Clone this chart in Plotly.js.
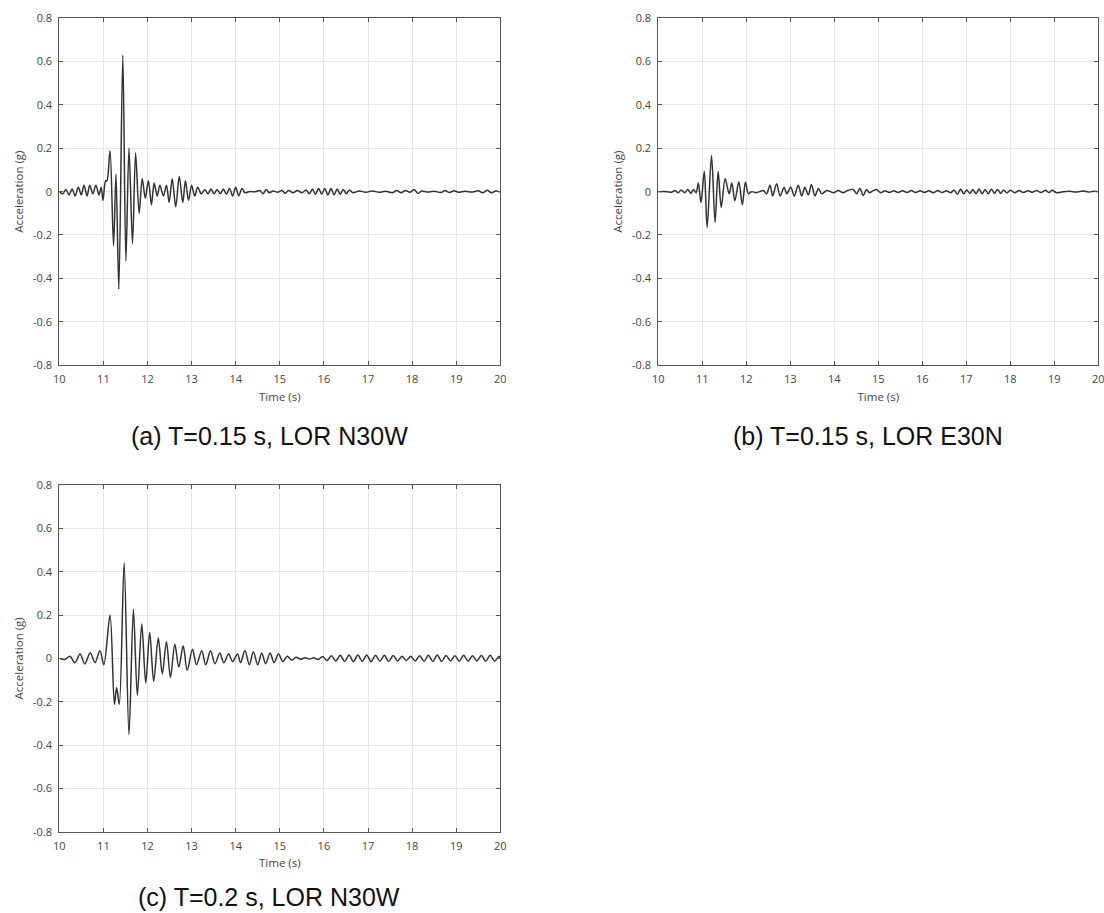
<!DOCTYPE html>
<html>
<head>
<meta charset="utf-8">
<script src="https://cdn.plot.ly/plotly-3.0.1.min.js"></script>
<style>
  html, body { margin: 0; padding: 0; background: #ffffff; }
  #chart { width: 1104px; height: 913px; }
</style>
</head>
<body>
<div id="chart"></div>
<script>
// ---------------- Data ----------------
// Panel (a): T=0.15 s, LOR N30W
const timeA = [10.00, 10.08, 10.15, 10.22, 10.29, 10.36, 10.43, 10.50, 10.56, 10.63, 10.69, 10.76, 10.83, 10.90, 10.95, 10.99, 11.05, 11.08,
  11.15, 11.23, 11.285, 11.35, 11.44, 11.51, 11.58, 11.66, 11.73, 11.81, 11.88, 11.95, 12.02, 12.09, 12.15, 12.22, 12.28, 12.36, 12.43, 12.49,
  12.56, 12.64, 12.72, 12.80, 12.86, 12.93, 13.00, 13.07, 13.14, 13.22, 13.30, 13.37, 13.44, 13.51, 13.58, 13.65, 13.72, 13.79, 13.86, 13.93,
  14.00, 14.07, 14.14, 14.21, 14.30, 14.45, 14.55, 14.62, 14.69, 14.76, 14.85, 14.95, 15.05, 15.12, 15.20, 15.30, 15.40, 15.50, 15.60, 15.67,
  15.74, 15.81, 15.88, 15.95, 16.02, 16.09, 16.16, 16.23, 16.30, 16.37, 16.44, 16.51, 16.58, 16.66, 16.80, 16.95, 17.10, 17.25, 17.40, 17.55,
  17.65, 17.75, 17.85, 17.95, 18.05, 18.13, 18.22, 18.35, 18.50, 18.65, 18.75, 18.85, 18.95, 19.05, 19.20, 19.35, 19.50, 19.60, 19.70, 19.80,
  19.90, 20.00];
const accA = [0.000, -0.010, 0.010, -0.015, 0.012, -0.020, 0.020, -0.015, 0.030, -0.020, 0.030, -0.010, 0.030, -0.015, 0.020, -0.040, 0.050, 0.050,
  0.190, -0.250, 0.080, -0.450, 0.630, -0.320, 0.200, -0.240, 0.180, -0.100, 0.060, -0.030, 0.050, -0.060, 0.040, -0.020, 0.030, -0.020, 0.030, -0.050,
  0.060, -0.070, 0.070, -0.050, 0.050, -0.040, 0.030, -0.020, 0.020, -0.010, 0.010, -0.010, 0.012, -0.010, 0.010, -0.010, 0.012, -0.012, 0.015, -0.020,
  0.020, -0.020, 0.015, -0.005, 0.000, 0.000, 0.005, -0.010, 0.010, -0.005, 0.003, -0.003, 0.005, -0.008, 0.005, -0.005, 0.005, -0.005, 0.008, -0.010,
  0.012, -0.012, 0.015, -0.012, 0.015, -0.015, 0.015, -0.015, 0.012, -0.012, 0.010, -0.010, 0.008, -0.005, 0.003, -0.003, 0.003, -0.003, 0.002, -0.005,
  0.005, -0.005, 0.005, -0.003, 0.010, -0.008, 0.003, -0.002, 0.002, -0.004, 0.005, -0.004, 0.004, -0.003, 0.002, -0.002, 0.004, -0.005, 0.006, -0.005,
  0.003, -0.002];

// Panel (b): T=0.15 s, LOR E30N
const timeB = [10.00, 10.20, 10.30, 10.38, 10.45, 10.52, 10.60, 10.67, 10.74, 10.80, 10.86, 10.91, 10.97, 11.045, 11.11, 11.21, 11.29, 11.36,
  11.43, 11.52, 11.61, 11.67, 11.74, 11.83, 11.91, 11.98, 12.05, 12.12, 12.23, 12.39, 12.46, 12.54, 12.60, 12.69, 12.77, 12.86, 12.92, 13.01,
  13.09, 13.18, 13.26, 13.33, 13.41, 13.48, 13.56, 13.64, 13.71, 13.83, 13.98, 14.09, 14.20, 14.30, 14.43, 14.51, 14.58, 14.66, 14.73, 14.80,
  14.88, 14.96, 15.05, 15.15, 15.25, 15.35, 15.45, 15.55, 15.65, 15.75, 15.85, 15.95, 16.05, 16.15, 16.25, 16.35, 16.45, 16.55, 16.65, 16.72,
  16.80, 16.87, 16.94, 17.01, 17.08, 17.15, 17.22, 17.29, 17.36, 17.43, 17.50, 17.57, 17.64, 17.71, 17.78, 17.85, 17.92, 18.00, 18.10, 18.20,
  18.30, 18.40, 18.50, 18.60, 18.70, 18.80, 18.88, 18.95, 19.05, 19.20, 19.35, 19.50, 19.65, 19.80, 19.90, 20.00];
const accB = [0.000, 0.000, -0.003, 0.005, -0.005, 0.008, -0.005, 0.010, -0.008, 0.010, -0.005, 0.040, -0.050, 0.094, -0.165, 0.167, -0.142, 0.094,
  -0.073, 0.059, -0.010, 0.040, -0.042, 0.046, -0.060, 0.043, -0.010, 0.000, -0.005, 0.005, -0.010, 0.030, -0.020, 0.037, -0.020, 0.020, -0.010, 0.020,
  -0.020, 0.030, -0.020, 0.020, -0.015, 0.033, -0.020, 0.015, -0.010, 0.005, -0.005, 0.005, -0.005, 0.005, 0.010, -0.010, 0.015, -0.018, 0.010, -0.005,
  0.005, 0.010, -0.005, 0.004, -0.004, 0.004, -0.004, 0.004, -0.004, 0.005, -0.004, 0.004, -0.004, 0.004, -0.005, 0.005, -0.004, 0.004, -0.005, 0.008,
  -0.012, 0.012, -0.010, 0.008, -0.008, 0.010, -0.010, 0.012, -0.010, 0.010, -0.010, 0.012, -0.008, 0.010, -0.008, 0.008, -0.006, 0.006, -0.005, 0.005,
  -0.004, 0.004, -0.003, 0.005, -0.004, 0.006, -0.004, 0.006, -0.005, 0.000, 0.002, -0.002, 0.003, -0.002, 0.002, 0.000];

// Panel (c): T=0.2 s, LOR N30W
const timeC = [10.00, 10.13, 10.24, 10.355, 10.47, 10.58, 10.70, 10.81, 10.92, 11.01, 11.15, 11.25, 11.30, 11.36, 11.47, 11.58, 11.68, 11.77,
  11.87, 11.96, 12.05, 12.14, 12.245, 12.335, 12.43, 12.52, 12.62, 12.71, 12.81, 12.90, 13.02, 13.11, 13.23, 13.32, 13.43, 13.53, 13.64, 13.73,
  13.84, 13.93, 14.04, 14.11, 14.21, 14.31, 14.40, 14.50, 14.59, 14.68, 14.78, 14.87, 14.97, 15.07, 15.17, 15.27, 15.37, 15.47, 15.57, 15.67,
  15.77, 15.87, 15.97, 16.07, 16.17, 16.27, 16.37, 16.47, 16.57, 16.67, 16.77, 16.87, 16.97, 17.07, 17.17, 17.27, 17.37, 17.47, 17.57, 17.67,
  17.77, 17.87, 17.97, 18.07, 18.17, 18.27, 18.37, 18.47, 18.57, 18.67, 18.77, 18.87, 18.97, 19.07, 19.17, 19.27, 19.37, 19.47, 19.57, 19.67,
  19.77, 19.87, 19.97, 20.00];
const accC = [0.000, -0.005, 0.010, -0.020, 0.020, -0.026, 0.026, -0.020, 0.035, -0.030, 0.200, -0.212, -0.136, -0.212, 0.440, -0.352, 0.227, -0.171,
  0.159, -0.114, 0.120, -0.106, 0.094, -0.071, 0.077, -0.088, 0.065, -0.040, 0.058, -0.056, 0.042, -0.030, 0.035, -0.030, 0.035, -0.025, 0.025, -0.020,
  0.020, -0.015, 0.020, -0.020, 0.036, -0.030, 0.030, -0.030, 0.025, -0.025, 0.025, -0.020, 0.020, -0.015, 0.010, -0.008, 0.005, -0.004, 0.003, -0.003,
  0.003, -0.005, 0.008, -0.010, 0.012, -0.012, 0.014, -0.014, 0.015, -0.015, 0.015, -0.014, 0.015, -0.015, 0.014, -0.013, 0.014, -0.014, 0.013, -0.012,
  0.010, -0.010, 0.010, -0.012, 0.012, -0.013, 0.014, -0.014, 0.015, -0.014, 0.013, -0.012, 0.012, -0.013, 0.014, -0.013, 0.012, -0.012, 0.013, -0.013,
  0.014, -0.013, 0.010, 0.000];

// Axis ticks and texts
const xTicks = [10, 11, 12, 13, 14, 15, 16, 17, 18, 19, 20];
const yTicks = [-0.8, -0.6, -0.4, -0.2, 0, 0.2, 0.4, 0.6, 0.8];
const yTickText = ['-0.8', '-0.6', '-0.4', '-0.2', '0', '0.2', '0.4', '0.6', '0.8'];
const xTitle = 'Time (s)';
const yTitle = 'Acceleration (g)';
const captions = ['(a) T=0.15 s, LOR N30W', '(b) T=0.15 s, LOR E30N', '(c) T=0.2 s, LOR N30W'];

// ---------------- Layout helpers ----------------
const W = 1104, H = 913;
const M = {l: 0, r: 0, t: 0, b: 0};
const px2x = p => p / W;
const px2y = p => 1 - p / H;

const tickFont = {family: 'Open Sans, sans-serif', size: 11, color: '#444444'};
const titleFont = {family: 'Open Sans, sans-serif', size: 11.5, color: '#444444'};

function xAxis(domainPx, anchor) {
  return {
    domain: [px2x(domainPx[0]), px2x(domainPx[1])],
    anchor: anchor,
    range: [10, 20],
    tickmode: 'array', tickvals: xTicks, ticktext: xTicks.map(String),
    ticks: 'inside', ticklen: 4, tickwidth: 1, tickcolor: '#555555',
    showline: true, linecolor: '#555555', linewidth: 1, mirror: 'ticks',
    showgrid: true, gridcolor: '#e6e6e6', gridwidth: 1,
    zeroline: false,
    tickfont: tickFont,
    ticklabelstandoff: 4,
    ticklabeloverflow: 'allow',
    title: {text: xTitle, font: titleFont, standoff: 7},
    automargin: false,
    fixedrange: true
  };
}
function yAxis(domainPx, anchor) {
  return {
    domain: [px2y(domainPx[1]), px2y(domainPx[0])],
    anchor: anchor,
    range: [-0.8, 0.8],
    tickmode: 'array', tickvals: yTicks, ticktext: yTickText,
    ticks: 'inside', ticklen: 4, tickwidth: 1, tickcolor: '#555555',
    showline: true, linecolor: '#555555', linewidth: 1, mirror: 'ticks',
    showgrid: true, gridcolor: '#e6e6e6', gridwidth: 1,
    zeroline: false,
    tickfont: tickFont,
    ticklabelstandoff: 4,
    ticklabeloverflow: 'allow',
    title: {text: yTitle, font: titleFont, standoff: 7},
    automargin: false,
    fixedrange: true
  };
}

const lineStyle = {color: '#333333', width: 1.5, shape: 'spline', smoothing: 0.9};

const traces = [
  {x: timeA, y: accA, type: 'scatter', mode: 'lines', line: lineStyle, xaxis: 'x', yaxis: 'y', showlegend: false, hoverinfo: 'skip'},
  {x: timeB, y: accB, type: 'scatter', mode: 'lines', line: lineStyle, xaxis: 'x2', yaxis: 'y2', showlegend: false, hoverinfo: 'skip'},
  {x: timeC, y: accC, type: 'scatter', mode: 'lines', line: lineStyle, xaxis: 'x3', yaxis: 'y3', showlegend: false, hoverinfo: 'skip'}
];

const captionFont = {family: 'Liberation Sans, Arial, sans-serif', size: 25, color: '#111111'};
const layout = {
  width: W, height: H,
  margin: M,
  paper_bgcolor: '#ffffff', plot_bgcolor: '#ffffff',
  showlegend: false,
  xaxis: xAxis([59.3, 500.3], 'y'),
  yaxis: yAxis([18.3, 365], 'x'),
  xaxis2: xAxis([658.3, 1098.3], 'y2'),
  yaxis2: yAxis([18.3, 365], 'x2'),
  xaxis3: xAxis([59.3, 500.3], 'y3'),
  yaxis3: yAxis([485, 831.7], 'x3'),
  annotations: [
    {text: captions[0], xref: 'paper', yref: 'paper', x: px2x(269), y: px2y(436), xanchor: 'center', yanchor: 'middle', showarrow: false, font: captionFont},
    {text: captions[1], xref: 'paper', yref: 'paper', x: px2x(868), y: px2y(436), xanchor: 'center', yanchor: 'middle', showarrow: false, font: captionFont},
    {text: captions[2], xref: 'paper', yref: 'paper', x: px2x(269), y: px2y(897), xanchor: 'center', yanchor: 'middle', showarrow: false, font: captionFont}
  ]
};

Plotly.newPlot('chart', traces, layout, {displayModeBar: false, staticPlot: true});
</script>
</body>
</html>
